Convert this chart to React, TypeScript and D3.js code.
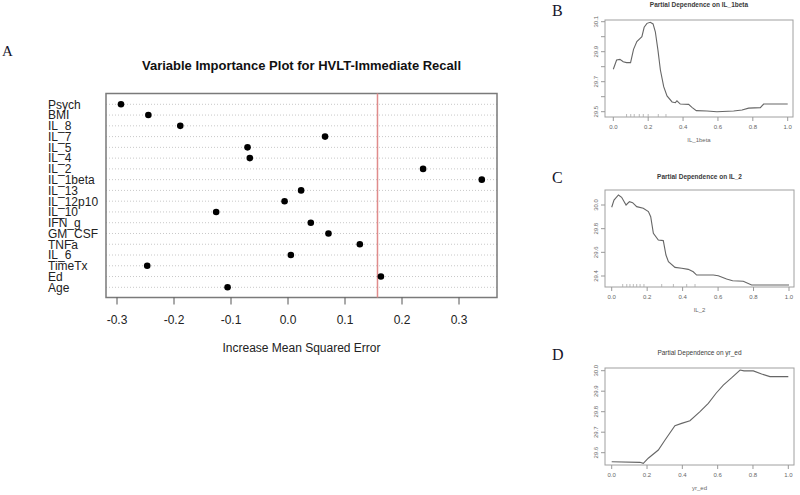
import React from 'react';
import * as d3 from 'd3';

// panel A: variable importance (dotchart)
const variables = ['Psych', 'BMI', 'IL_8', 'IL_7', 'IL_5', 'IL_4', 'IL_2', 'IL_1beta', 'IL_13', 'IL_12p10',
  'IL_10', 'IFN_g', 'GM_CSF', 'TNFa', 'IL_6', 'TimeTx', 'Ed', 'Age'];
const importance = [-0.293, -0.245, -0.189, 0.065, -0.071, -0.067, 0.237, 0.340, 0.023, -0.006,
  -0.126, 0.040, 0.071, 0.126, 0.005, -0.247, 0.163, -0.106];
const cutoff = 0.157;
const importanceTicks = [-0.3, -0.2, -0.1, 0.0, 0.1, 0.2, 0.3];

// panel B: partial dependence on IL_1beta
const il1betaX = [0, 0.019, 0.038, 0.057, 0.076, 0.099, 0.116, 0.135, 0.154, 0.164, 0.177, 0.193, 0.212, 0.228,
  0.241, 0.256, 0.270, 0.289, 0.308, 0.337, 0.356, 0.365, 0.384, 0.432, 0.451, 0.476, 0.537, 0.594, 0.690,
  0.738, 0.776, 0.843, 0.862, 1.0];
const il1betaY = [29.783, 29.845, 29.849, 29.833, 29.827, 29.827, 29.916, 29.967, 29.989, 30.0, 30.063, 30.089,
  30.096, 30.085, 30.033, 29.911, 29.778, 29.667, 29.605, 29.565, 29.56, 29.573, 29.551, 29.549, 29.529,
  29.507, 29.505, 29.5, 29.505, 29.511, 29.524, 29.527, 29.551, 29.551];
const il1betaRug = [0.076, 0.1, 0.12, 0.149, 0.172, 0.2, 0.258, 0.302];
const il1betaYTicks = [29.5, 29.6, 29.7, 29.8, 29.9, 30.0, 30.1];
const il1betaYLabels = [29.5, 29.7, 29.9, 30.1];

// panel C: partial dependence on IL_2
const il2X = [0, 0.013, 0.038, 0.056, 0.081, 0.1, 0.118, 0.141, 0.178, 0.207, 0.22, 0.235, 0.263, 0.291, 0.306,
  0.32, 0.357, 0.395, 0.432, 0.46, 0.479, 0.573, 0.601, 0.648, 0.682, 0.742, 0.789, 1.0];
const il2Y = [29.981, 30.042, 30.085, 30.065, 30.0, 30.028, 30.02, 29.986, 29.972, 29.944, 29.901, 29.761, 29.704,
  29.699, 29.577, 29.521, 29.473, 29.465, 29.456, 29.436, 29.408, 29.408, 29.402, 29.374, 29.36, 29.355,
  29.324, 29.324];
const il2Rug = [0.062, 0.085, 0.103, 0.122, 0.141, 0.16, 0.182, 0.282, 0.348, 0.423, 0.47];
const il2YTicks = [29.4, 29.6, 29.8, 30.0];

// panel D: partial dependence on yr_ed
const yrEdX = [0, 0.16, 0.179, 0.207, 0.264, 0.302, 0.358, 0.396, 0.443, 0.5, 0.547, 0.591, 0.632, 0.68, 0.727,
  0.749, 0.802, 0.849, 0.896, 1.0];
const yrEdY = [29.556, 29.553, 29.548, 29.573, 29.613, 29.662, 29.732, 29.743, 29.756, 29.8, 29.841, 29.89,
  29.93, 29.966, 30.003, 29.999, 29.999, 29.984, 29.971, 29.971];
const yrEdYTicks = [29.6, 29.7, 29.8, 29.9, 30.0];

const pdTicksX = [0, 0.2, 0.4, 0.6, 0.8, 1.0];

const sans = 'Liberation Sans, Arial, Helvetica, sans-serif';
const serif = 'Liberation Serif, Times New Roman, serif';

type PanelProps = {
  letter: string;
  title: string;
  titleBold: boolean;
  xLabel: string;
  xs: number[];
  ys: number[];
  rug: number[];
  yTicks: number[];
  yLabels: number[];
  box: { left: number; right: number; top: number; bottom: number };
  xRange: [number, number];
  yDomain: [number, number];
  yRange: [number, number];
  titleY: number;
  letterY: number;
};

const PDPanel = (p: PanelProps) => {
  const x = d3.scaleLinear().domain([0, 1]).range(p.xRange);
  const y = d3.scaleLinear().domain(p.yDomain).range(p.yRange);
  const line = d3.line<number>()
    .x((d, i) => x(p.xs[i]))
    .y(d => y(d));
  const { left, right, top, bottom } = p.box;
  const cx = (left + right) / 2;
  return (
    <g>
      <text x={552} y={p.letterY} fontFamily={serif} fontSize={16} fill="#15152a">{p.letter}</text>
      <text x={cx} y={p.titleY} textAnchor="middle" fontFamily={sans} fontSize={6.5}
        fontWeight={p.titleBold ? 'bold' : 'normal'} fill="#3a3a3a">{p.title}</text>
      <rect x={left} y={top} width={right - left} height={bottom - top} fill="none" stroke="#a0a0a0" strokeWidth={1} />
      {pdTicksX.map(t => (
        <g key={'x' + t}>
          <line x1={x(t)} x2={x(t)} y1={bottom} y2={bottom + 4} stroke="#999" />
          <text x={x(t)} y={bottom + 12} textAnchor="middle" fontFamily={sans} fontSize={6} fill="#666">{t.toFixed(1)}</text>
        </g>
      ))}
      {p.yTicks.map(t => (
        <line key={'y' + t} x1={left} x2={left - 4} y1={y(t)} y2={y(t)} stroke="#999" />
      ))}
      {p.yLabels.map(t => (
        <text key={'yl' + t} transform={`translate(${left - 7},${y(t)}) rotate(-90)`} textAnchor="middle"
          fontFamily={sans} fontSize={6} fill="#666">{t.toFixed(1)}</text>
      ))}
      {p.rug.map((r, i) => (
        <line key={'r' + i} x1={x(r)} x2={x(r)} y1={bottom} y2={bottom - 3} stroke="#aaa" strokeWidth={0.8} />
      ))}
      <path d={line(p.ys) || ''} fill="none" stroke="#666" strokeWidth={1.1} />
      <text x={cx} y={bottom + 25} textAnchor="middle" fontFamily={sans} fontSize={6} fill="#666">{p.xLabel}</text>
    </g>
  );
};

const App = () => {
  const x = d3.scaleLinear().domain([-0.3, 0.3]).range([117, 459]);
  const y = d3.scalePoint<string>().domain(variables).range([104.3, 287.3]);
  const box = { left: 106, right: 497, top: 93.5, bottom: 297.5 };

  return (
    <svg width={800} height={495} style={{ position: 'absolute', left: 0, top: 0, background: '#fff' }}>
      <rect width={800} height={495} fill="#fff" />
      <text x={2} y={56} fontFamily={serif} fontSize={15} fill="#15152a">A</text>
      <text x={301.5} y={70} textAnchor="middle" fontFamily={sans} fontSize={13} fontWeight="bold" fill="#111">
        Variable Importance Plot for HVLT-Immediate Recall
      </text>
      {variables.map(v => (
        <line key={'g' + v} x1={box.left} x2={box.right} y1={y(v)} y2={y(v)}
          stroke="#c8c8c8" strokeWidth={1} strokeDasharray="1,2" />
      ))}
      <rect x={box.left} y={box.top} width={box.right - box.left} height={box.bottom - box.top}
        fill="none" stroke="#7a7a7a" strokeWidth={1.5} />
      <line x1={x(cutoff)} x2={x(cutoff)} y1={box.top} y2={box.bottom} stroke="#e08c8c" strokeWidth={1.5} />
      {variables.map((v, i) => (
        <circle key={'d' + v} cx={x(importance[i])} cy={y(v)} r={3.3} fill="#000" />
      ))}
      {variables.map(v => (
        <text key={'l' + v} x={48} y={y(v)} dy="0.36em" fontFamily={sans} fontSize={12} fill="#222">{v}</text>
      ))}
      {importanceTicks.map(t => (
        <g key={'t' + t}>
          <line x1={x(t)} x2={x(t)} y1={box.bottom} y2={box.bottom + 7} stroke="#555" strokeWidth={1} />
          <text x={x(t)} y={324} textAnchor="middle" fontFamily={sans} fontSize={12} fill="#222">{t.toFixed(1)}</text>
        </g>
      ))}
      <text x={301.5} y={352} textAnchor="middle" fontFamily={sans} fontSize={12} fill="#222">
        Increase Mean Squared Error
      </text>

      <PDPanel letter="B" title="Partial Dependence on IL_1beta" titleBold={true} xLabel="IL_1beta"
        xs={il1betaX} ys={il1betaY} rug={il1betaRug} yTicks={il1betaYTicks} yLabels={il1betaYLabels}
        box={{ left: 605, right: 793, top: 20, bottom: 117 }} xRange={[613.3, 787.7]}
        yDomain={[29.5, 30.1]} yRange={[111.7, 21.7]} titleY={7} letterY={16} />
      <PDPanel letter="C" title="Partial Dependence on IL_2" titleBold={true} xLabel="IL_2"
        xs={il2X} ys={il2Y} rug={il2Rug} yTicks={il2YTicks} yLabels={il2YTicks}
        box={{ left: 605, right: 794, top: 190, bottom: 287 }} xRange={[611.7, 789]}
        yDomain={[29.4, 30.0]} yRange={[276, 205]} titleY={179} letterY={183} />
      <PDPanel letter="D" title="Partial Dependence on yr_ed" titleBold={false} xLabel="yr_ed"
        xs={yrEdX} ys={yrEdY} rug={[]} yTicks={yrEdYTicks} yLabels={yrEdYTicks}
        box={{ left: 605, right: 794, top: 368, bottom: 465 }} xRange={[611.7, 788.3]}
        yDomain={[29.6, 30.0]} yRange={[452.7, 370.7]} titleY={355} letterY={360} />
    </svg>
  );
};

export default App;
